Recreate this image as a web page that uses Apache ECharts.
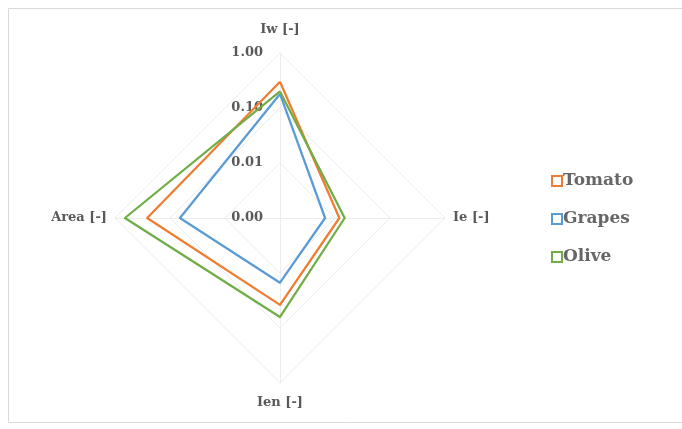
<!DOCTYPE html>
<html>
<head>
<meta charset="utf-8">
<script src="https://cdn.jsdelivr.net/npm/echarts@6/dist/echarts.min.js"></script>
<style>
  html, body { margin: 0; padding: 0; background: #fff; }
  #main { width: 682px; height: 429px; }
</style>
</head>
<body>
<div id="main"></div>
<script>
// categories as they sit around the chart: top, right, bottom, left
var categories = ['Iw [-]', 'Ie [-]', 'Ien [-]', 'Area [-]'];
var seriesNames = ['Tomato', 'Grapes', 'Olive'];
var tomato = [0.30, 0.012, 0.038, 0.26];
var grapes = [0.18, 0.0066, 0.015, 0.066];
var olive = [0.20, 0.015, 0.063, 0.66];
var tickLabels = ['0.00', '0.01', '0.10', '1.00'];
var colors = ['#ED7D31', '#5B9BD5', '#70AD47'];

// log axis from 0.001 to 1, radar has no log type so plot log10 offset
var logMin = -3;
function toLog(v) { return Math.log10(v) - logMin; }

// echarts puts indicators counter-clockwise, so reorder: top, left, bottom, right
var order = [0, 3, 2, 1];

var chartDom = document.getElementById('main');
var myChart = echarts.init(chartDom);
var option;

var serif = '"DejaVu Serif", "Liberation Serif", serif';

option = {
    animation: false,
    graphic: [{
        type: 'rect',
        shape: { x: 8.5, y: 8.5, width: 680, height: 414 },
        style: { fill: 'none', stroke: '#d9d9d9', lineWidth: 1 }
    }],
    legend: {
        orient: 'vertical',
        left: 546,
        top: 167,
        itemWidth: 10,
        itemHeight: 10,
        itemGap: 20,
        textStyle: { fontFamily: serif, fontSize: 17, lineHeight: 18, fontWeight: 'bold', color: '#666666', padding: [0, 0, 0, -4] },
        data: seriesNames.map(function (n, i) {
            return { name: n, icon: 'rect', itemStyle: { color: '#fff', borderColor: colors[i], borderWidth: 2 } };
        })
    },
    radar: {
        center: [280, 218],
        radius: 165,
        startAngle: 90,
        splitNumber: 3,
        shape: 'polygon',
        nameGap: 8,
        axisName: { fontFamily: serif, fontSize: 13, fontWeight: 'bold', color: '#595959', padding: [5, 0, 9, 0] },
        axisLine: { lineStyle: { color: '#ececec', width: 1 } },
        splitLine: { lineStyle: { color: '#ececec', width: 1 } },
        splitArea: { show: false },
        indicator: order.map(function (k, i) {
            return {
                name: categories[k],
                min: 0,
                max: 3,
                axisLabel: i === 0 ? {
                    show: true,
                    fontFamily: serif,
                    fontSize: 13,
                    fontWeight: 'bold',
                    color: '#595959',
                    margin: 17,
                    formatter: function (v) { return tickLabels[Math.round(v)]; }
                } : { show: false }
            };
        })
    },
    series: [{
        type: 'radar',
        symbol: 'none',
        data: [tomato, grapes, olive].map(function (vals, i) {
            return {
                name: seriesNames[i],
                value: order.map(function (k) { return toLog(vals[k]); }),
                lineStyle: { color: colors[i], width: 2.25 },
                itemStyle: { color: colors[i] }
            };
        })
    }]
};

option && myChart.setOption(option);
</script>
</body>
</html>
